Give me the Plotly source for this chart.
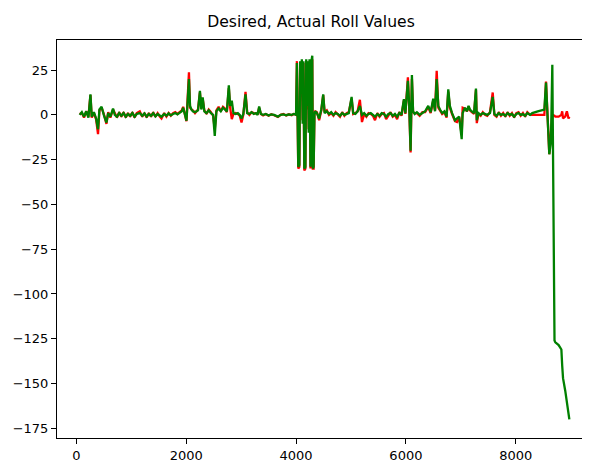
import plotly.graph_objects as go

# ---- data (sample index, desired roll, actual roll) ----
s1_x = [60, 100, 140, 180, 220, 257, 280, 320, 360, 395, 420, 460, 500, 548, 580, 620, 668, 700, 740, 780,
        820, 860, 900, 940, 980, 1020, 1060, 1100, 1155, 1200, 1240, 1280, 1320, 1360, 1400, 1440, 1480, 1520,
        1550, 1600, 1640, 1680, 1720, 1760, 1800, 1840, 1880, 1920, 1945, 1975, 2005, 2050, 2070, 2095]
s1_act = [0, 1.5, -1, 2, -1.5, 11.5, -1, 1.5, -2, -8, 3, 4.5, 0, -4.3, 1, -1, 3.5, 0, -1, 1,
          -0.5, 1, -1, 0.5, -0.5, 1, -1, 0.5, 1, -0.5, 0.8, -1, 0.5, -0.5, 1, -0.8, 0.5, -0.5,
          -1, 0.5, -0.5, 0.8, -0.3, 0.5, 1, 0.3, 1.2, 2, 4, 1, -3.3, 20, 5, 3]
s1_des = [0.5, 1, -1.5, 2, -1, 11, -1.5, 1, -2.5, -10.8, 2.5, 4, 0.5, -5, 1.5, -1.5, 3, 0.5, -1.5, 1.5,
          -1, 1.5, -1.5, 1, -1, 1.5, -1.5, 1, 2, -1, 1, -1.5, 1, -1, 1.5, -1, 1, -1,
          -2, 1, -1, 1, -0.5, 1, 1.5, 0.5, 1.5, 2.5, 4.5, 1, -3.5, 23.8, 4, 3]

s2_x = [2120, 2160, 2215, 2250, 2275, 2300, 2330, 2370, 2410, 2450, 2490, 2520, 2550, 2590, 2630, 2670,
        2710, 2740, 2776, 2800, 2830, 2860, 2900, 2940, 2975, 3007, 3040, 3080, 3110, 3150, 3190, 3230,
        3270, 3300, 3328, 3360, 3400, 3450, 3500, 3550, 3600, 3670, 3720, 3770, 3820, 3870, 3920, 3960, 4000]
s2_act = [2, 1.5, 2.5, 13.4, 3, 9.7, 2, 1, 2.5, 1, 0, -11.7, 2, 3.5, 2, 4,
          3, 2, 16.5, 5, 8, 1, 0.5, 1, 0, -2, 0.5, 11.5, 1, 0.5, 1.5, 0.5,
          1, 0, 4.7, 0.5, 0, 0.5, -0.3, 0.3, 0, -1, 0, 0.3, -0.2, 0.2, 0, 0.5, 0]
s2_des = [2.5, 1, 3, 12.5, 3.5, 9, 2.5, 0.5, 3, 1.5, -0.5, -8, 2.5, 4.5, 2, 4.5,
          3.5, 1.5, 15, 4, -2.4, 0.5, 1, 0.5, -0.5, -4.3, 0, 12.8, 1.5, 0, 1.5, 1,
          0.5, 0.5, 4, 0.5, -0.3, 0.5, -0.5, 0.3, -0.2, -1.2, 0, 0.5, -0.3, 0.3, -0.2, 0.5, 0]

s3_x = [4015, 4040, 4060, 4075, 4090, 4105, 4120, 4135, 4150, 4170, 4185, 4200, 4215, 4230, 4245, 4262,
        4280, 4295, 4305, 4320, 4335, 4350]
s3_act = [29, -29, -28, 30, 12, 31, -5, 30, -30, -29, 31, 5, 30, -10, 31, -29,
          30, 33, -30, -29, 0, 2]
s3_des = [30, -30, -29, 29, 10, 30, -3, 29, -31, -30, 30, 3, 29, -8, 30, -30,
          29, 31, -30, -30, 1, 2]

s4_x = [4380, 4420, 4460, 4494, 4520, 4560, 4600, 4640, 4680, 4720, 4760, 4800, 4840, 4880, 4920, 4960,
        5011, 5040, 5080, 5120, 5162, 5200, 5240, 5280, 5320, 5360, 5400, 5437, 5480, 5520, 5560, 5600,
        5640, 5680, 5720, 5760, 5800, 5840, 5880, 5920, 5963, 5990, 6036, 6060, 6085, 6109, 6130]
s4_act = [1, -2, 3, 11.5, 1, 2, 0.5, 1.5, 0, 1, 0.5, -0.5, 1, 0, 0.5, 1,
          10, 1, 0.5, 2, 5, 0, 1, -0.5, 0.5, 1, 0, -1, 0.5, -0.5, 1, 0.5,
          -1, 0.5, 1, -0.5, 0.5, -1, 1, 0, 8.8, 1, 19, 5, -20, 22.3, 2]
s4_des = [1.5, -3, 2.5, 11, 1.5, 2.5, 0, 1, -0.5, 1.5, 0, -1, 1.5, -0.5, 1, 1.5,
          9, 0.5, 1, 2, 8.4, -4, 0.5, -1, 1, 0.5, -0.5, -3, 1, -1, 0.5, 1,
          -2.4, 0, 1.5, -1, 0, -2.4, 1.5, -0.5, 8, 0.5, 21, 4, -21, 20, 1.5]

s5_x = [6160, 6200, 6250, 6300, 6350, 6406, 6450, 6497, 6530, 6560, 6590, 6620, 6660, 6700, 6740, 6771,
        6800, 6840, 6893, 6930, 6970, 7015, 7033, 7075, 7110, 7140, 7165, 7200, 7240, 7275, 7290, 7320,
        7360, 7400, 7440, 7480, 7530, 7580, 7610, 7650, 7690, 7730, 7770, 7810, 7850, 7890, 7930, 7970,
        8010, 8050, 8090, 8130, 8170, 8210, 8260]
s5_act = [0.5, 1.5, 0, 1, 2, 5, 1.5, 9, 2, 20, 5, 3, 1, 2, -1, 14.3,
          5, 1, -3, -2, -1, -13.6, 1, 4, 2, 5, 3, 2, 1, 14.7, -3, 1,
          0, 1, 0.5, 0, 1, 10, 0.5, -0.5, 1, 0, 0.5, -0.5, 1, 0, 0.5, -1,
          0.5, 1, 0, 0.5, -0.5, 1, 0]
s5_des = [1, 1, -0.5, 1.5, 1.5, 4.5, 1, 8, 2.5, 24.6, 4, 2.5, 0.5, 1.5, -1.5, 13,
          4, 0.5, -3.5, -4, -1.5, -11, 4, 3.5, 2, 4.5, 2.5, 1.5, 0.5, 14, -4.6, 0.5,
          -0.5, 1.5, 0, -0.5, 1.5, 12.5, 0, -1, 1.5, -0.5, 1, -1, 1.5, -0.5, 1, -1.5,
          1, 1.5, -0.5, 1, -1, 1.5, 0]

s6_x = [8300, 8400, 8520, 8550, 8580, 8610, 8640, 8665, 8705, 8720, 8780, 8830, 8845, 8860, 8900, 8930,
        8960, 8975]
s6_act = [1, 2, 3, 18, 0, -22, -15, 28, -126, -127, -128.5, -131, -140, -147, -154, -160,
          -165, -170]
s6_des = [0, 0, 0, 18.6, -1, -22, -10, 0, -0.5, -1, -1, 0, 2, -2, -1, 2,
          -2, -1]

sample = s1_x + s2_x + s3_x + s4_x + s5_x + s6_x
actual = s1_act + s2_act + s3_act + s4_act + s5_act + s6_act
desired = s1_des + s2_des + s3_des + s4_des + s5_des + s6_des
assert len(sample) == len(actual) == len(desired)

x_ticks = [0, 2000, 4000, 6000, 8000]
y_ticks = [25, 0, -25, -50, -75, -100, -125, -150, -175]
y_labels = [str(v).replace("-", "\u2212") for v in y_ticks]

# The page body adds an 8px margin; the figure is sized so it still fits in 590x464.
W, H, OFF = 582, 456, 8

fig = go.Figure()
fig.add_trace(go.Scatter(x=sample, y=desired, mode="lines", name="Desired",
                         line=dict(color="#ff0000", width=2.3)))
fig.add_trace(go.Scatter(x=sample, y=actual, mode="lines", name="Actual",
                         line=dict(color="#008000", width=2.3)))

axis_font = dict(family="DejaVu Sans", size=13, color="#000000")
fig.update_layout(
    width=W, height=H,
    margin=dict(l=57 - OFF, r=0, t=40 - OFF, b=26, autoexpand=False),
    paper_bgcolor="white", plot_bgcolor="white",
    showlegend=False,
    title=dict(text="Desired, Actual Roll Values", x=(311 - OFF) / W, xref="container", xanchor="center",
               y=1 - (22 - OFF) / H, yref="container", yanchor="middle",
               font=dict(family="DejaVu Sans", size=15.6, color="#000000")),
    xaxis=dict(range=[-352, 9351], tickvals=x_ticks, ticks="outside", ticklen=5, tickwidth=1,
               tickcolor="#000000", showline=True, linecolor="#000000", linewidth=1, mirror=True,
               showgrid=False, zeroline=False, tickfont=axis_font),
    yaxis=dict(range=[-180.4, 41.8], tickvals=y_ticks, ticktext=y_labels, ticks="outside", ticklen=5,
               tickwidth=1, tickcolor="#000000", showline=True, linecolor="#000000", linewidth=1,
               mirror=False, showgrid=False, zeroline=False, tickfont=axis_font),
)

fig.write_html("out.html")
